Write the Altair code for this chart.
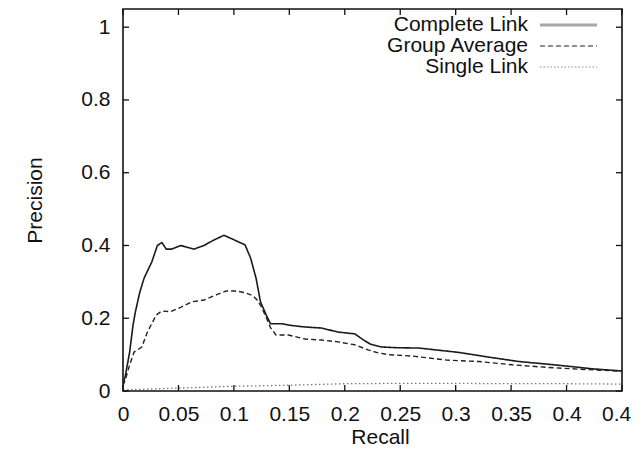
import altair as alt
import pandas as pd

# ---- data ----
complete_recall = [0.0, 0.002, 0.006, 0.009, 0.011, 0.015, 0.019, 0.026, 0.031, 0.035, 0.039, 0.044,
                   0.052, 0.058, 0.064, 0.073, 0.082, 0.091, 0.097, 0.104, 0.110, 0.115, 0.120, 0.124,
                   0.129, 0.133, 0.143, 0.152, 0.164, 0.179, 0.194, 0.209, 0.217, 0.223, 0.233, 0.247,
                   0.267, 0.285, 0.303, 0.330, 0.357, 0.382, 0.405, 0.423, 0.45]
complete_precision = [0.02, 0.04, 0.107, 0.18, 0.215, 0.27, 0.31, 0.355, 0.40, 0.408, 0.39, 0.39,
                      0.40, 0.395, 0.39, 0.40, 0.415, 0.428, 0.42, 0.41, 0.402, 0.366, 0.31, 0.245,
                      0.21, 0.185, 0.185, 0.18, 0.176, 0.173, 0.162, 0.157, 0.14, 0.129, 0.121, 0.119,
                      0.118, 0.112, 0.106, 0.093, 0.081, 0.074, 0.067, 0.061, 0.055]

group_recall = [0.0, 0.002, 0.006, 0.010, 0.017, 0.022, 0.030, 0.035, 0.043, 0.052, 0.062, 0.073,
                0.084, 0.093, 0.102, 0.110, 0.117, 0.121, 0.125, 0.130, 0.133, 0.138, 0.149, 0.164,
                0.179, 0.194, 0.209, 0.221, 0.230, 0.239, 0.261, 0.292, 0.321, 0.351, 0.382, 0.411,
                0.439, 0.45]
group_precision = [0.015, 0.03, 0.072, 0.107, 0.121, 0.162, 0.209, 0.22, 0.218, 0.23, 0.245, 0.25,
                   0.264, 0.275, 0.275, 0.27, 0.262, 0.25, 0.23, 0.196, 0.174, 0.154, 0.154, 0.143,
                   0.14, 0.135, 0.127, 0.113, 0.105, 0.10, 0.096, 0.085, 0.081, 0.072, 0.065, 0.06,
                   0.056, 0.054]

single_recall = [0.0, 0.02, 0.05, 0.08, 0.10, 0.15, 0.20, 0.25, 0.30, 0.35, 0.40, 0.45]
single_precision = [0.003, 0.005, 0.008, 0.011, 0.013, 0.016, 0.02, 0.021, 0.021, 0.02, 0.02, 0.019]

series_names = ["Complete Link", "Group Average", "Single Link"]
x_ticks = [0, 0.05, 0.1, 0.15, 0.2, 0.25, 0.3, 0.35, 0.4, 0.45]
y_ticks = [0, 0.2, 0.4, 0.6, 0.8, 1.0]

# ---- layout / style ----
W, H = 499, 382
FONT = "Liberation Sans"
FS = 21
TICK = 6
styles = {
    "Complete Link": dict(color="#1a1a1a", strokeWidth=1.6, dash=[1, 0]),
    "Group Average": dict(color="#222222", strokeWidth=1.4, dash=[5, 3]),
    "Single Link": dict(color="#777777", strokeWidth=1.3, dash=[1.5, 2.5]),
}
legend_styles = {
    "Complete Link": dict(color="#a8a8a8", strokeWidth=3, dash=[1, 0]),
    "Group Average": dict(color="#222222", strokeWidth=1.2, dash=[5, 3]),
    "Single Link": dict(color="#888888", strokeWidth=1.2, dash=[1.5, 2]),
}

xscale = alt.Scale(domain=[0, 0.45], nice=False, zero=False)
yscale = alt.Scale(domain=[0, 1.05], nice=False, zero=False)

xaxis = alt.Axis(
    values=x_ticks, format="~g", title="Recall", ticks=False, tickSize=0, domain=False,
    grid=False, labelPadding=12, labelFont=FONT, labelFontSize=FS, labelColor="#111",
    titleFont=FONT, titleFontSize=FS, titleFontWeight="normal", titleColor="#111",
    titleX=257, titleY=46, titleBaseline="middle", labelFlush=False)
yaxis = alt.Axis(
    values=y_ticks, format="~g", title="Precision", ticks=False, tickSize=0, domain=False,
    grid=False, labelPadding=13, labelFont=FONT, labelFontSize=FS, labelColor="#111",
    titleFont=FONT, titleFontSize=FS, titleFontWeight="normal", titleColor="#111",
    titleX=-88, titleY=191, titleAngle=270, titleBaseline="middle", titleAlign="center",
    labelFlush=False)

frames = {
    "Complete Link": pd.DataFrame({"recall": complete_recall, "precision": complete_precision}),
    "Group Average": pd.DataFrame({"recall": group_recall, "precision": group_precision}),
    "Single Link": pd.DataFrame({"recall": single_recall, "precision": single_precision}),
}

layers = []
for name in series_names:
    st = styles[name]
    layers.append(
        alt.Chart(frames[name]).mark_line(
            color=st["color"], strokeWidth=st["strokeWidth"], strokeDash=st["dash"], clip=True
        ).encode(
            x=alt.X("recall:Q", scale=xscale, axis=xaxis),
            y=alt.Y("precision:Q", scale=yscale, axis=yaxis),
        )
    )

# inward ticks on all four sides
xt = pd.DataFrame({"v": x_ticks})
yt = pd.DataFrame({"v": y_ticks})
tick_style = dict(color="#111", strokeWidth=1.3)
layers += [
    alt.Chart(xt).mark_rule(**tick_style).encode(
        x=alt.X("v:Q", scale=xscale, axis=xaxis), y=alt.value(H), y2=alt.value(H - TICK)),
    alt.Chart(xt).mark_rule(**tick_style).encode(
        x=alt.X("v:Q", scale=xscale, axis=xaxis), y=alt.value(0), y2=alt.value(TICK)),
    alt.Chart(yt).mark_rule(**tick_style).encode(
        y=alt.Y("v:Q", scale=yscale, axis=yaxis), x=alt.value(0), x2=alt.value(TICK)),
    alt.Chart(yt).mark_rule(**tick_style).encode(
        y=alt.Y("v:Q", scale=yscale, axis=yaxis), x=alt.value(W - TICK), x2=alt.value(W)),
]

# legend (top right, inside the frame, label then line sample)
leg_rows_y = [16, 37, 58]
for name, ly in zip(series_names, leg_rows_y):
    ls = legend_styles[name]
    layers.append(
        alt.Chart(pd.DataFrame({"label": [name]})).mark_text(
            font=FONT, fontSize=FS, align="right", baseline="middle", color="#111"
        ).encode(text="label:N", x=alt.value(405), y=alt.value(ly))
    )
    layers.append(
        alt.Chart(pd.DataFrame({"label": [name]})).mark_rule(
            color=ls["color"], strokeWidth=ls["strokeWidth"], strokeDash=ls["dash"]
        ).encode(x=alt.value(417), x2=alt.value(474), y=alt.value(ly))
    )

chart = alt.layer(*layers).properties(
    width=W, height=H,
    background="white",
    autosize=alt.AutoSizeParams(type="none"),
    padding={"left": 115, "top": 1, "right": 10, "bottom": 58},
).configure_view(stroke="#111", strokeWidth=1.6)

chart.save("out.html", embed_options={"renderer": "svg", "actions": False})
